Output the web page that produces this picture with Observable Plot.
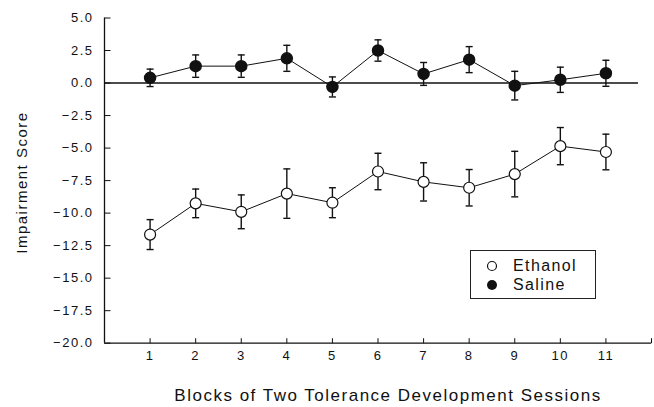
<!DOCTYPE html>
<html>
<head>
<meta charset="utf-8">
<script src="https://cdn.jsdelivr.net/npm/d3@7"></script>
<script src="https://cdn.jsdelivr.net/npm/@observablehq/plot@0.6"></script>
<style>
  html, body { margin: 0; padding: 0; background: #fff; }
  #wrap { position: relative; width: 654px; height: 407px; }
  #legend {
    position: absolute; left: 470px; top: 250px; width: 126px; height: 49px;
    box-sizing: border-box; border: 1px solid #222;
    font-family: "Liberation Sans", sans-serif; font-size: 16px; letter-spacing: 1.4px; color: #111;
  }
  #legend .row { position: absolute; left: 0; height: 18px; line-height: 18px; }
  #legend svg { position: absolute; left: 14px; top: 2px; }
  #legend span { position: absolute; left: 42px; top: 0; white-space: nowrap; }
</style>
</head>
<body>
<div id="wrap"></div>
<script>
const blocks = [1, 2, 3, 4, 5, 6, 7, 8, 9, 10, 11];
const salineMean = [0.4, 1.3, 1.3, 1.9, -0.3, 2.5, 0.7, 1.8, -0.2, 0.25, 0.75];
const salineErr = [0.67, 0.86, 0.86, 1.0, 0.77, 0.82, 0.88, 1.0, 1.1, 0.97, 1.0];
const ethanolMean = [-11.65, -9.25, -9.9, -8.5, -9.2, -6.8, -7.6, -8.05, -7.0, -4.85, -5.3];
const ethanolErr = [1.15, 1.1, 1.3, 1.9, 1.15, 1.4, 1.47, 1.4, 1.75, 1.43, 1.37];
const yTicks = [5, 2.5, 0, -2.5, -5, -7.5, -10, -12.5, -15, -17.5, -20];
const xTicks = [1, 2, 3, 4, 5, 6, 7, 8, 9, 10, 11, 12];
const xTickLabels = [1, 2, 3, 4, 5, 6, 7, 8, 9, 10, 11];
const seriesNames = ["Ethanol", "Saline"];
const yTitle = "Impairment Score";
const xTitle = "Blocks of Two Tolerance Development Sessions";

const saline = blocks.map((b, i) => ({x: b, v: salineMean[i], e: salineErr[i]}));
const ethanol = blocks.map((b, i) => ({x: b, v: ethanolMean[i], e: ethanolErr[i]}));

const hLine = { draw(ctx, size) { const r = Math.sqrt(size / Math.PI); ctx.moveTo(-r, 0); ctx.lineTo(r, 0); } };
const rightTick = { draw(ctx, size) { const r = Math.sqrt(size / Math.PI); ctx.moveTo(0, 0); ctx.lineTo(r, 0); } };
const upTick = { draw(ctx, size) { const r = Math.sqrt(size / Math.PI); ctx.moveTo(0, 0); ctx.lineTo(0, -r); } };

function errMarks(data) {
  return [
    Plot.ruleX(data, {x: "x", y1: d => d.v - d.e, y2: d => d.v + d.e, stroke: "#111", strokeWidth: 1.4}),
    Plot.dot(data, {x: "x", y: d => d.v + d.e, symbol: hLine, r: 3.5, stroke: "#111", strokeWidth: 1.4}),
    Plot.dot(data, {x: "x", y: d => d.v - d.e, symbol: hLine, r: 3.5, stroke: "#111", strokeWidth: 1.4})
  ];
}

const chart = Plot.plot({
  width: 654,
  height: 407,
  marginLeft: 104,
  marginRight: 3,
  marginTop: 17.5,
  marginBottom: 64.3,
  style: {fontFamily: "Liberation Sans, sans-serif", fontSize: "13px", letterSpacing: "1.5px", color: "#111", background: "#fff", overflow: "visible"},
  x: {domain: [0, 12], axis: null},
  y: {domain: [-20, 5], axis: null},
  marks: [
    Plot.axisY(yTicks, {tickSize: 0, tickPadding: 11, tickFormat: d3.format(".1f"), label: null, fontSize: 13}),
    Plot.axisX(xTickLabels, {tickSize: 0, tickPadding: 8, tickFormat: d => String(d), label: null, fontSize: 13}),
    Plot.dot(yTicks, {y: d => d, frameAnchor: "left", symbol: rightTick, r: 6, stroke: "#111", strokeWidth: 1}),
    Plot.dot(xTicks, {x: d => d, frameAnchor: "bottom", symbol: upTick, r: 5, stroke: "#111", strokeWidth: 1}),
    Plot.ruleX([0], {stroke: "#111", strokeWidth: 1.3}),
    Plot.ruleY([-20], {stroke: "#111", strokeWidth: 1.3}),
    Plot.ruleY([0], {stroke: "#111", strokeWidth: 1.6, insetRight: 13}),
    Plot.line(saline, {x: "x", y: "v", stroke: "#111", strokeWidth: 1}),
    Plot.line(ethanol, {x: "x", y: "v", stroke: "#111", strokeWidth: 1}),
    ...errMarks(saline),
    ...errMarks(ethanol),
    Plot.dot(saline, {x: "x", y: "v", r: 5.5, fill: "#111", stroke: "#111"}),
    Plot.dot(ethanol, {x: "x", y: "v", r: 5.5, fill: "#fff", stroke: "#111", strokeWidth: 1.2}),
    Plot.text([yTitle], {frameAnchor: "left", textAnchor: "middle", lineAnchor: "middle", dx: -82, dy: 2, rotate: -90, fontSize: 15, fill: "#111", letterSpacing: "1.5px"}),
    Plot.text([xTitle], {frameAnchor: "bottom", textAnchor: "middle", lineAnchor: "middle", dx: 10, dy: 52, fontSize: 17, fill: "#111", letterSpacing: "1.3px"})
  ]
});

const wrap = document.getElementById("wrap");
wrap.appendChild(chart);

const legend = document.createElement("div");
legend.id = "legend";
legend.innerHTML = `
  <div class="row" style="top:6px;width:100%"><svg width="14" height="14"><circle cx="7" cy="7" r="4.5" fill="#fff" stroke="#111" stroke-width="1.2"/></svg><span>${seriesNames[0]}</span></div>
  <div class="row" style="top:25px;width:100%"><svg width="14" height="14"><circle cx="7" cy="7" r="5" fill="#111"/></svg><span>${seriesNames[1]}</span></div>`;
wrap.appendChild(legend);
</script>
</body>
</html>
